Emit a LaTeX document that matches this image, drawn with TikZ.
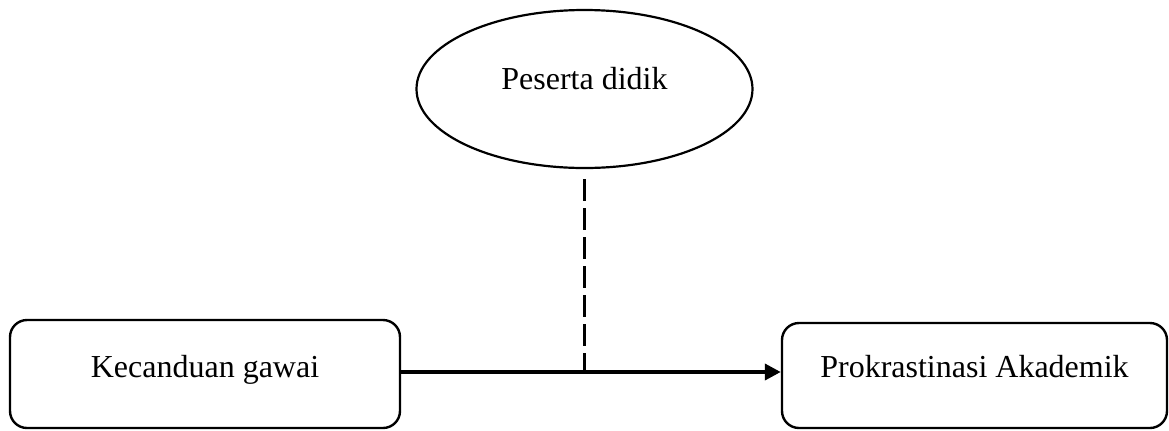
\documentclass[tikz,border=0pt]{standalone}
\usepackage{fontspec}
\setmainfont{Liberation Serif}
\usetikzlibrary{arrows.meta,shapes.geometric}
\tikzset{
  varbox/.style={draw, line width=1.2pt, rounded corners=8.5pt, rectangle, inner sep=0pt,
    font=\fontsize{16pt}{19pt}\selectfont, align=center},
  moderator/.style={draw, line width=1.1pt, ellipse, inner sep=0pt,
    minimum width=168pt, minimum height=79pt, text height=8pt, text depth=8pt,
    font=\fontsize{16pt}{19pt}\selectfont},
  mainarrow/.style={line width=1.9pt, -{Triangle[length=8pt,width=8pt]}},
  modline/.style={line width=1.2pt, dash pattern=on 11pt off 3.5pt}
}
\begin{document}
\begin{tikzpicture}[x=0.5pt,y=-0.5pt]
\useasboundingbox (0,0) rectangle (1169,430);
\node[varbox, minimum width=195pt, minimum height=54pt, text height=28.5pt, text depth=25.5pt] (kg) at (205,374) {Kecanduan gawai};
\node[varbox, minimum width=192.5pt, minimum height=52.5pt, text height=27pt, text depth=25.5pt] (pa) at (974.5,375.5) {Prokrastinasi Akademik};
\node[moderator] (pd) at (584.5,89) {Peserta didik};
\coordinate (a) at ([yshift=1pt]kg.east);
\coordinate (j) at (pd.south |- a);
\draw[mainarrow] (a) -- (a -| pa.west);
\draw[modline] ([yshift=-5pt]pd.south) -- (j);
\end{tikzpicture}
\end{document}
